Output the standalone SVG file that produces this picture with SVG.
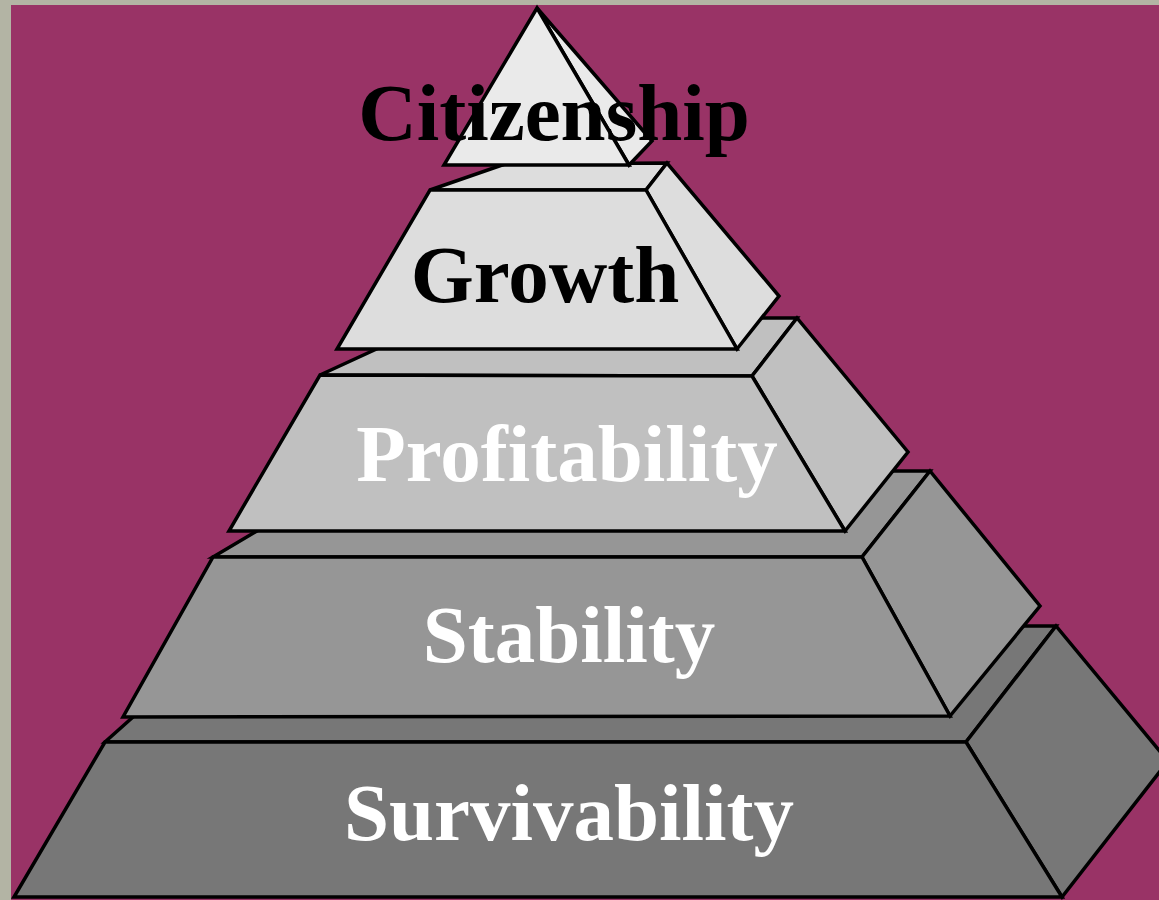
<svg xmlns="http://www.w3.org/2000/svg" width="1159" height="900" viewBox="0 0 1159 900">
<style>
.edge{stroke:#000;stroke-width:3.5;stroke-linejoin:miter}
.l1{fill:#eaeaea}
.l2{fill:#dddddd}
.l3{fill:#c0c0c0}
.l4{fill:#969696}
.l5{fill:#777777}
.lbl{font-family:"Liberation Serif","Times New Roman",serif;font-weight:bold;font-size:81px;text-anchor:middle}
.dark{fill:#000}
.light{fill:#fff}
</style>
<rect x="0" y="0" width="1159" height="900" fill="#b3b4a4"/>
<rect x="11" y="5" width="1148" height="895" fill="#993366"/>
<g id="survivability">
<polygon class="edge l5" points="105,742 966,742 1056,626 235,626"/>
<polygon class="edge l5" points="966,742 1056,626 1168,761 1062,897"/>
<polygon class="edge l5" points="14,897 1062,897 966,742 105,742"/>
<text class="lbl light" x="569" y="840">Survivability</text>
</g>
<g id="stability">
<polygon class="edge l4" points="213,557 862,557 930,471 358,471"/>
<polygon class="edge l4" points="862,557 930,471 1040,606 950,716"/>
<polygon class="edge l4" points="123,717 950,716 862,557 213,557"/>
<text class="lbl light" x="569" y="662">Stability</text>
</g>
<g id="profitability">
<polygon class="edge l3" points="320,375 752,376 797,318 444,318"/>
<polygon class="edge l3" points="752,376 797,318 908,452 845,531"/>
<polygon class="edge l3" points="229,531 845,531 752,376 320,375"/>
<text class="lbl light" x="567" y="481">Profitability</text>
</g>
<g id="growth">
<polygon class="edge l2" points="430,190 646,190 667,163 505,164"/>
<polygon class="edge l2" points="646,190 667,163 779,296 737,349"/>
<polygon class="edge l2" points="337,349 737,349 646,190 430,190"/>
<text class="lbl dark" x="545" y="302">Growth</text>
</g>
<g id="citizenship">
<polygon class="edge l1" points="537,8 652,141 629,165"/>
<polygon class="edge l1" points="537,8 629,165 444,165"/>
<text class="lbl dark" x="554" y="140">Citizenship</text>
</g>
</svg>
